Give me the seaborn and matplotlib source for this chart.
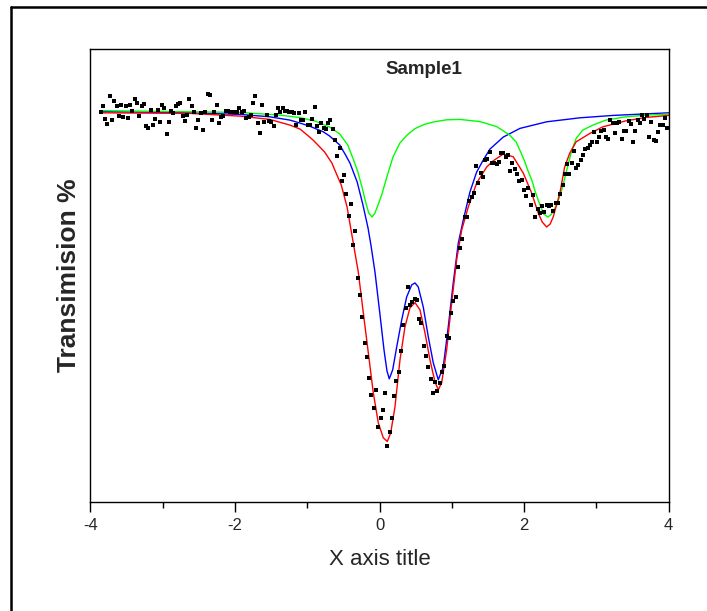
import numpy as np
import pandas as pd
import matplotlib
matplotlib.use("Agg")
import matplotlib.pyplot as plt
from matplotlib.lines import Line2D
from matplotlib.ticker import MultipleLocator
import seaborn as sns

# measured spectrum (velocity channels, transmission %)
vel_first, vel_last = -3.86, 3.98
trans = [
    99.97, 100.63, 99.27, 98.77, 101.63, 99.23, 101.07, 100.6, 99.6, 100.67,
    99.53, 100.63, 99.4, 100.67, 100.13, 101.33, 100.87, 99.6, 100.63, 100.8,
    98.6, 98.43, 100.2, 98.67, 99.33, 100.2, 99.0, 100.67, 100.43, 97.8,
    99.03, 100.13, 99.93, 100.6, 100.8, 100.87, 99.6, 99.13, 99.7, 101.3,
    100.63, 99.97, 98.37, 99.2, 99.87, 98.2, 99.97, 101.77, 101.73, 99.2,
    100.03, 100.73, 98.87, 99.53, 99.6, 100.1, 100.13, 100.0, 100.03, 100.0,
    99.97, 100.43, 99.97, 100.1, 99.43, 99.47, 99.73, 100.93, 101.63, 98.93,
    97.87, 100.67, 98.97, 99.67, 99.07, 98.97, 98.6, 99.67, 100.4, 100.03,
    100.37, 100.13, 100.1, 99.97, 100.03, 99.87, 98.7, 99.87, 99.17, 99.23,
    100.03, 98.73, 98.73, 99.27, 100.53, 98.6, 98.03, 98.93, 98.43, 98.27,
    98.87, 99.2, 98.27, 97.2, 95.6, 96.37, 93.13, 93.67, 91.77, 89.63,
    90.77, 86.67, 88.13, 83.37, 81.73, 79.47, 76.93, 75.47, 73.43, 71.73,
    70.37, 72.2, 68.43, 69.37, 70.2, 71.93, 66.6, 68.0, 69.33, 71.6,
    73.13, 73.97, 76.13, 78.73, 80.37, 82.53, 80.7, 81.03, 81.27, 81.23,
    79.33, 78.87, 76.6, 75.6, 74.53, 73.3, 71.87, 72.97, 72.13, 72.87,
    74.03, 74.6, 77.6, 77.43, 79.87, 81.1, 81.47, 84.53, 86.37, 87.3,
    89.47, 89.53, 91.1, 91.47, 91.87, 94.6, 92.87, 93.9, 93.5, 95.2,
    95.27, 96.03, 94.93, 94.87, 94.77, 95.03, 95.93, 95.9, 95.47, 95.73,
    94.13, 94.9, 94.27, 93.77, 93.07, 93.2, 92.23, 91.57, 92.37, 90.73,
    91.7, 89.53, 90.33, 89.93, 90.6, 89.97, 90.67, 90.6, 90.7, 90.13,
    90.87, 90.93, 91.77, 92.73, 93.8, 94.8, 93.83, 94.93, 96.07, 94.4,
    94.67, 95.2, 95.73, 96.3, 96.4, 96.7, 97.0, 98.0, 97.03, 97.53,
    98.13, 98.2, 97.53, 97.3, 99.17, 98.93, 97.87, 98.93, 98.97, 97.33,
    98.13, 98.1, 99.07, 98.83, 96.97, 98.1, 99.23, 98.87, 99.67, 99.3,
    99.7, 97.47, 98.97, 97.17, 97.13, 98.0, 98.7, 98.73, 99.37, 98.43,
]

# fitted curves
fit_x = [-3.84, -2.62, -1.93, -1.52, -1.24, -1.10, -1.00, -0.92, -0.83, -0.76,
         -0.66, -0.59, -0.53, -0.45, -0.364, -0.295, -0.225, -0.156, -0.087, -0.018,
         0.051, 0.107, 0.154, 0.213, 0.282, 0.351, 0.42, 0.49, 0.559, 0.628,
         0.697, 0.766, 0.812, 0.859, 0.928, 0.997, 1.066, 1.136, 1.227, 1.343,
         1.481, 1.573, 1.711, 1.849, 1.988, 2.104, 2.195, 2.25, 2.311, 2.36,
         2.402, 2.495, 2.56, 2.63, 2.72, 2.91, 3.09, 3.41, 3.69, 4.0]
fit_total = [99.93, 99.87, 99.6, 99.27, 98.7, 98.3, 97.7, 97.2, 96.53, 96.0,
             94.9, 93.7, 92.7, 90.5, 86.9, 84.0, 79.9, 75.9, 71.9, 68.9,
             67.4, 67.03, 67.9, 70.5, 75.2, 78.5, 80.4, 80.93, 80.2, 77.9,
             75.2, 73.0, 72.2, 72.9, 76.2, 80.9, 85.2, 88.2, 90.5, 92.9,
             94.5, 95.13, 95.8, 95.53, 93.9, 91.9, 89.9, 89.0, 88.5, 88.8,
             89.5, 91.9, 94.5, 95.87, 97.03, 97.87, 98.53, 99.13, 99.47, 99.67]

blue_x = [-3.84, -2.62, -1.93, -1.52, -1.24, -1.10, -0.97, -0.78, -0.69, -0.55,
          -0.47, -0.41, -0.31, -0.23, -0.16, -0.12, -0.064, 0.006, 0.061, 0.102,
          0.134, 0.181, 0.237, 0.306, 0.375, 0.444, 0.49, 0.535, 0.604, 0.674,
          0.743, 0.812, 0.881, 0.95, 1.019, 1.089, 1.158, 1.25, 1.343, 1.434,
          1.527, 1.711, 1.942, 2.311, 2.772, 3.232, 4.0]
blue_y = [100.05, 99.93, 99.77, 99.53, 99.2, 98.9, 98.6, 98.03, 97.6, 96.7,
          95.7, 94.9, 93.0, 90.7, 88.4, 86.7, 84.0, 79.7, 76.2, 74.1,
          73.3, 74.2, 76.5, 79.2, 81.5, 82.7, 82.9, 82.5, 80.5, 77.5,
          74.9, 73.2, 74.5, 78.5, 82.9, 86.9, 89.2, 92.0, 94.0, 95.2,
          96.3, 97.5, 98.37, 99.03, 99.43, 99.67, 99.93]

green_x = [-3.84, -2.62, -1.93, -1.38, -1.10, -0.89, -0.69, -0.55, -0.44, -0.37,
           -0.30, -0.24, -0.19, -0.15, -0.105, -0.064, -0.022, 0.033, 0.10, 0.185,
           0.28, 0.38, 0.49, 0.63, 0.77, 0.93, 1.11, 1.39, 1.62, 1.80,
           1.89, 1.94, 2.00, 2.05, 2.11, 2.16, 2.22, 2.27, 2.33, 2.38,
           2.45, 2.52, 2.59, 2.66, 2.72, 2.81, 2.95, 3.13, 3.41, 3.69, 4.0]
green_y = [100.15, 100.03, 99.97, 99.7, 99.45, 99.1, 98.5, 97.8, 96.7, 95.4,
           94.0, 92.4, 90.9, 89.9, 89.5, 89.9, 90.7, 91.8, 93.5, 95.5,
           96.9, 97.7, 98.35, 98.8, 99.05, 99.23, 99.27, 99.05, 98.55, 97.7,
           97.0, 96.2, 95.2, 94.2, 93.1, 91.9, 90.7, 89.8, 89.5, 89.8,
           90.7, 92.2, 94.2, 96.2, 97.37, 98.2, 98.7, 99.2, 99.53, 99.7, 99.8]

data = pd.DataFrame({"v": np.linspace(vel_first, vel_last, len(trans)), "t": trans})

sns.set_style("white")
plt.rcParams["font.family"] = ["Liberation Sans", "DejaVu Sans"]
plt.rcParams["axes.unicode_minus"] = False

fig = plt.figure(figsize=(7.07, 6.11), dpi=100)
ax = fig.add_axes([0.128, 0.1789, 0.8178, 0.7406])

sns.lineplot(x=blue_x, y=blue_y, color="#0000ff", lw=1.0, estimator=None, ax=ax)
sns.lineplot(x=green_x, y=green_y, color="#00ff00", lw=1.0, estimator=None, ax=ax)
sns.lineplot(x=fit_x, y=fit_total, color="#ff0000", lw=1.0, estimator=None, ax=ax)
sns.scatterplot(data=data, x="v", y="t", color="black", marker="s", s=5,
                linewidth=0, ax=ax, zorder=5)

ax.set_xlim(-4, 4)
ax.set_ylim(61.0, 106.3)
ax.xaxis.set_major_locator(MultipleLocator(2))
ax.xaxis.set_minor_locator(MultipleLocator(1))
ax.set_yticks([])
ax.tick_params(axis="x", which="major", direction="out", length=7, width=1,
               labelsize=12, pad=5, bottom=True, color="black")
ax.tick_params(axis="x", which="minor", direction="out", length=4, width=1,
               bottom=True, color="black")
for sp in ax.spines.values():
    sp.set_visible(True)
    sp.set_color("black")
    sp.set_linewidth(1.0)

ax.set_xlabel("X axis title", fontsize=16, labelpad=11)
ax.set_ylabel("Transimision %", fontsize=19, fontweight="bold", labelpad=7)
ax.text(0.577, 0.955, "Sample1", transform=ax.transAxes, ha="center", va="center",
        fontsize=13.5, fontweight="bold")

# page frame (left and top edges)
fig.add_artist(Line2D([11 / 707, 11 / 707], [0, 1 - 7 / 611], transform=fig.transFigure,
                      color="black", lw=1.8))
fig.add_artist(Line2D([11 / 707, 1], [1 - 7 / 611, 1 - 7 / 611], transform=fig.transFigure,
                      color="black", lw=1.8))

fig.savefig("out.png", dpi=100)
